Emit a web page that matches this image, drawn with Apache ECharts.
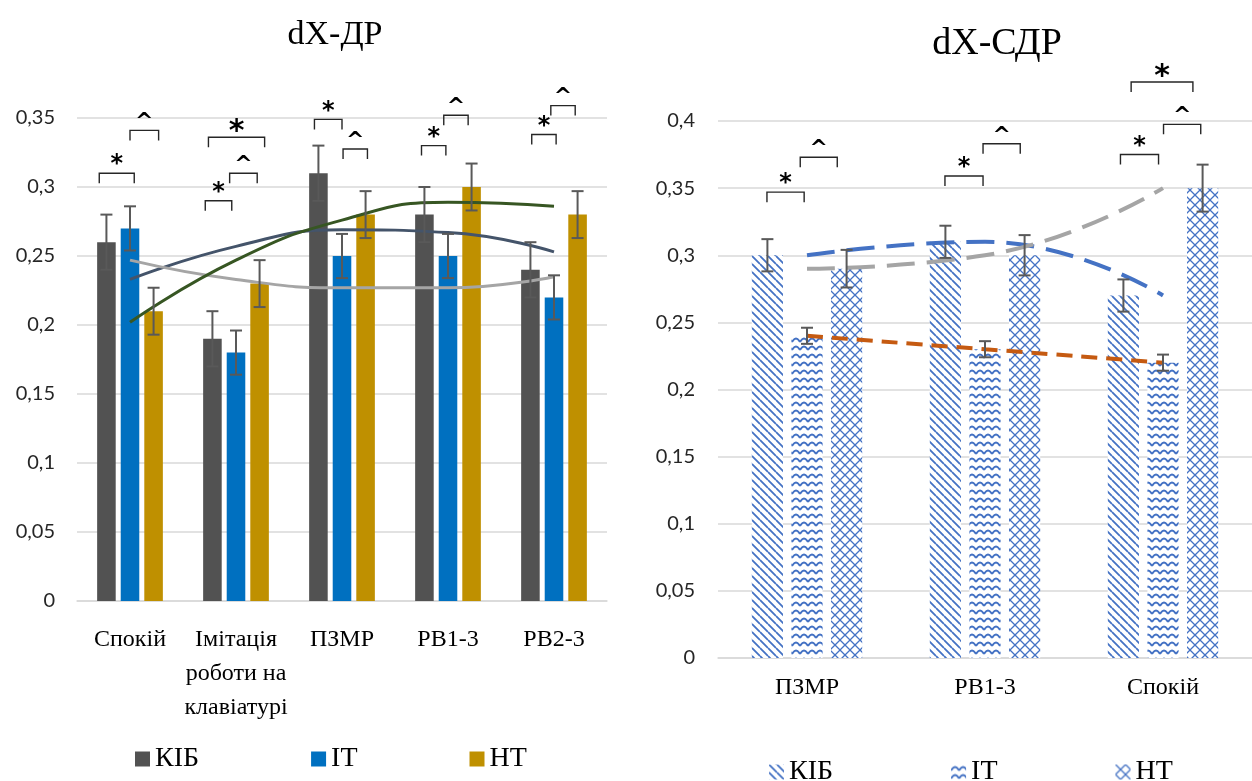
<!DOCTYPE html>
<html>
<head>
<meta charset="utf-8">
<title>dX-ДР / dX-СДР</title>
<script src="https://cdn.jsdelivr.net/npm/echarts@6/dist/echarts.min.js"></script>
<style>
  html, body { margin: 0; padding: 0; background: #fff; }
  #main { width: 1252px; height: 781px; }
</style>
</head>
<body>
<div id="main"></div>
<script>
// ---- ліва діаграма: dX-ДР ----
const drCategories = ['Спокій', 'Імітація\nроботи на\nклавіатурі', 'ПЗМР', 'РВ1-3', 'РВ2-3'];
const drKib = [0.26, 0.19, 0.31, 0.28, 0.24];
const drIt = [0.27, 0.18, 0.25, 0.25, 0.22];
const drNt = [0.21, 0.23, 0.28, 0.30, 0.28];
const drKibErr = [0.02, 0.02, 0.02, 0.02, 0.02];
const drItErr = [0.016, 0.016, 0.016, 0.016, 0.016];
const drNtErr = [0.017, 0.017, 0.017, 0.017, 0.017];
// поліноміальні тренди
const drKibTrend = [0.233, 0.257, 0.269, 0.267, 0.253];
const drItTrend = [0.247, 0.233, 0.227, 0.227, 0.235];
const drNtTrend = [0.202, 0.247, 0.276, 0.289, 0.286];
// позначки значущості: [категорія, лівий край, правий край (у ширинах категорії), рівень, знак]
const drMarks = [
  [0, -0.29, 0.04, 0.310, '*'],
  [0, 0.0, 0.27, 0.341, '^'],
  [1, -0.29, -0.04, 0.290, '*'],
  [1, -0.06, 0.20, 0.310, '^'],
  [1, -0.26, 0.27, 0.336, 'big*'],
  [2, -0.26, 0.0, 0.349, '*'],
  [2, 0.01, 0.24, 0.3275, '^'],
  [3, -0.25, -0.02, 0.330, '*'],
  [3, -0.04, 0.19, 0.352, '^'],
  [4, -0.21, 0.02, 0.338, '*'],
  [4, -0.03, 0.20, 0.359, '^']
];

// ---- права діаграма: dX-СДР ----
const sdrCategories = ['ПЗМР', 'РВ1-3', 'Спокій'];
const sdrKib = [0.30, 0.31, 0.27];
const sdrIt = [0.24, 0.23, 0.22];
const sdrNt = [0.29, 0.30, 0.35];
const sdrKibErr = [0.012, 0.012, 0.012];
const sdrItErr = [0.006, 0.006, 0.006];
const sdrNtErr = [0.014, 0.015, 0.0175];
const sdrMarks = [
  [0, -0.225, -0.016, 0.347, '*'],
  [0, -0.038, 0.17, 0.373, '^'],
  [1, -0.225, -0.011, 0.359, '*'],
  [1, -0.011, 0.198, 0.383, '^'],
  [2, -0.239, -0.025, 0.375, '*'],
  [2, 0.003, 0.212, 0.3975, '^'],
  [2, -0.179, 0.168, 0.429, 'big*']
];

const CAT_GAP = 0.38;
const BAR_GAP = 0.27;
const SERIF = "'Liberation Serif', 'Times New Roman', serif";

function fmtTick(v) {
  return String(+v.toFixed(2)).replace('.', ',');
}

// крок між центрами стовпців у групі з трьох
function barStep(band) {
  const bw = band * (1 - CAT_GAP) / (3 + 2 * BAR_GAP);
  return bw * (1 + BAR_GAP);
}

// штрихові заливки для правої діаграми
function makePattern(kind) {
  const s = kind === 'cross' ? 10 : 8;
  const cv = document.createElement('canvas');
  cv.width = s;
  cv.height = s;
  const ctx = cv.getContext('2d');
  ctx.fillStyle = '#fff';
  ctx.fillRect(0, 0, s, s);
  ctx.strokeStyle = '#4472C4';
  ctx.lineWidth = kind === 'cross' ? 1.3 : 1.8;
  ctx.beginPath();
  if (kind === 'diag') {
    for (let k = -1; k <= 1; k++) {
      ctx.moveTo(0, k * s);
      ctx.lineTo(s, s + k * s);
    }
  } else if (kind === 'wave') {
    ctx.moveTo(0, 6);
    ctx.quadraticCurveTo(4, -1, 8, 6);
  } else {
    ctx.moveTo(0, 0); ctx.lineTo(s, s);
    ctx.moveTo(s, 0); ctx.lineTo(0, s);
  }
  ctx.stroke();
  return { image: cv, repeat: 'repeat' };
}

function errorSeries(axis, barIdx, values, errs) {
  return {
    type: 'custom',
    xAxisIndex: axis,
    yAxisIndex: axis,
    z: 4,
    silent: true,
    data: values.map((v, i) => [i, v, errs[i]]),
    encode: { x: 0, y: 1 },
    renderItem: function (params, api) {
      const cat = api.value(0);
      const v = api.value(1);
      const e = api.value(2);
      const c = api.coord([cat, v]);
      const x = c[0] + (barIdx - 1) * barStep(api.size([1, 0])[0]);
      const top = api.coord([cat, v + e])[1];
      const bot = api.coord([cat, v - e])[1];
      const st = { stroke: '#595959', lineWidth: 2 };
      return {
        type: 'group',
        children: [
          { type: 'line', shape: { x1: x, y1: top, x2: x, y2: bot }, style: st },
          { type: 'line', shape: { x1: x - 6, y1: top, x2: x + 6, y2: top }, style: st },
          { type: 'line', shape: { x1: x - 6, y1: bot, x2: x + 6, y2: bot }, style: st }
        ]
      };
    }
  };
}

function markSeries(axis, marks) {
  return {
    type: 'custom',
    xAxisIndex: axis,
    yAxisIndex: axis,
    z: 5,
    silent: true,
    clip: false,
    data: marks.map(m => [m[0], m[1], m[2], m[3]]),
    encode: { x: 0, y: 3 },
    renderItem: function (params, api) {
      const m = marks[params.dataIndex];
      const c = api.coord([m[0], m[3]]);
      const band = api.size([1, 0])[0];
      const x1 = c[0] + m[1] * band;
      const x2 = c[0] + m[2] * band;
      const y = c[1];
      const big = m[4] === 'big*';
      const sign = big ? '*' : m[4];
      const isStar = sign === '*';
      return {
        type: 'group',
        children: [
          {
            type: 'polyline',
            shape: { points: [[x1, y + 10], [x1, y], [x2, y], [x2, y + 10]] },
            style: { stroke: '#262626', lineWidth: 1.4, fill: null }
          },
          {
            type: 'text',
            x: (x1 + x2) / 2,
            y: isStar ? y + (big ? 10 : 4) : y + 3,
            style: {
              text: sign,
              fontFamily: 'DejaVu Sans',
              fontSize: big ? 30 : (isStar ? 24 : 22),
              fontWeight: 'bold',
              fill: '#000',
              align: 'center',
              verticalAlign: 'bottom'
            }
          }
        ]
      };
    }
  };
}

function trendSeries(axis, values, color, width, dash) {
  return {
    type: 'line',
    xAxisIndex: axis,
    yAxisIndex: axis,
    data: values,
    smooth: true,
    symbol: 'none',
    silent: true,
    z: 3,
    lineStyle: { color: color, width: width, type: dash || 'solid', cap: 'butt' }
  };
}

function barSeries(axis, name, values, color) {
  return {
    type: 'bar',
    name: name,
    xAxisIndex: axis,
    yAxisIndex: axis,
    data: values,
    barGap: (BAR_GAP * 100) + '%',
    barCategoryGap: (CAT_GAP * 100) + '%',
    itemStyle: { color: color },
    z: 2
  };
}

const chart = echarts.init(document.getElementById('main'), null, { renderer: 'canvas' });

const serifText = { fontFamily: SERIF, fontWeight: 'normal', fontStyle: 'normal', color: '#000' };

const yAxisBase = {
  type: 'value',
  min: 0,
  interval: 0.05,
  axisLine: { show: false },
  axisTick: { show: false },
  splitLine: { lineStyle: { color: '#D9D9D9', width: 1.5 } },
  axisLabel: { fontFamily: 'Lato', fontSize: 20, color: '#262626', margin: 22, formatter: fmtTick }
};

chart.setOption({
  backgroundColor: '#fff',
  animation: false,
  title: [
    {
      text: 'dX-ДР', left: 330, top: 13, textAlign: 'center',
      textStyle: Object.assign({ fontSize: 34 }, serifText)
    },
    {
      text: 'dX-СДР', left: 992, top: 20, textAlign: 'center',
      textStyle: Object.assign({ fontSize: 38 }, serifText)
    }
  ],
  legend: [
    {
      data: ['КІБ', 'ІТ', 'НТ'],
      left: 135, top: 745, padding: 0,
      icon: 'rect', itemWidth: 15, itemHeight: 15, itemGap: 112,
      selectedMode: false,
      textStyle: Object.assign({ fontSize: 28 }, serifText)
    },
    {
      data: ['КІБ·2', 'ІТ·2', 'НТ·2'],
      formatter: name => name.replace('·2', ''),
      left: 769, top: 758, padding: 0,
      icon: 'rect', itemWidth: 15, itemHeight: 15, itemGap: 118,
      selectedMode: false,
      textStyle: Object.assign({ fontSize: 28 }, serifText)
    }
  ],
  grid: [
    { left: 77, top: 118, width: 530, height: 483 },
    { left: 718, top: 121, width: 546, height: 537 }
  ],
  xAxis: [
    {
      type: 'category', gridIndex: 0, data: drCategories,
      axisTick: { show: false },
      axisLine: { lineStyle: { color: '#D9D9D9', width: 1.5 } },
      axisLabel: Object.assign({ fontSize: 24, lineHeight: 34, margin: 22, interval: 0 }, serifText)
    },
    {
      type: 'category', gridIndex: 1, data: sdrCategories,
      axisTick: { show: false },
      axisLine: { lineStyle: { color: '#D9D9D9', width: 1.5 } },
      axisLabel: Object.assign({ fontSize: 24, lineHeight: 34, margin: 13, interval: 0 }, serifText)
    }
  ],
  yAxis: [
    Object.assign({}, yAxisBase, { gridIndex: 0, max: 0.35 }),
    Object.assign({}, yAxisBase, { gridIndex: 1, max: 0.4, axisLabel: Object.assign({}, yAxisBase.axisLabel, { margin: 23 }) })
  ],
  series: [
    barSeries(0, 'КІБ', drKib, '#525252'),
    barSeries(0, 'ІТ', drIt, '#0070C0'),
    barSeries(0, 'НТ', drNt, '#BF9000'),
    trendSeries(0, drKibTrend, '#44546A', 3),
    trendSeries(0, drItTrend, '#A5A5A5', 3),
    trendSeries(0, drNtTrend, '#375623', 3),
    errorSeries(0, 0, drKib, drKibErr),
    errorSeries(0, 1, drIt, drItErr),
    errorSeries(0, 2, drNt, drNtErr),
    markSeries(0, drMarks),

    barSeries(1, 'КІБ·2', sdrKib, makePattern('diag')),
    barSeries(1, 'ІТ·2', sdrIt, makePattern('wave')),
    barSeries(1, 'НТ·2', sdrNt, makePattern('cross')),
    trendSeries(1, sdrKib, '#4472C4', 4, [28, 12]),
    trendSeries(1, sdrIt, '#C55A11', 4, [16, 9]),
    trendSeries(1, sdrNt, '#A5A5A5', 4, [28, 12]),
    errorSeries(1, 0, sdrKib, sdrKibErr),
    errorSeries(1, 1, sdrIt, sdrItErr),
    errorSeries(1, 2, sdrNt, sdrNtErr),
    markSeries(1, sdrMarks)
  ]
});
</script>
</body>
</html>
